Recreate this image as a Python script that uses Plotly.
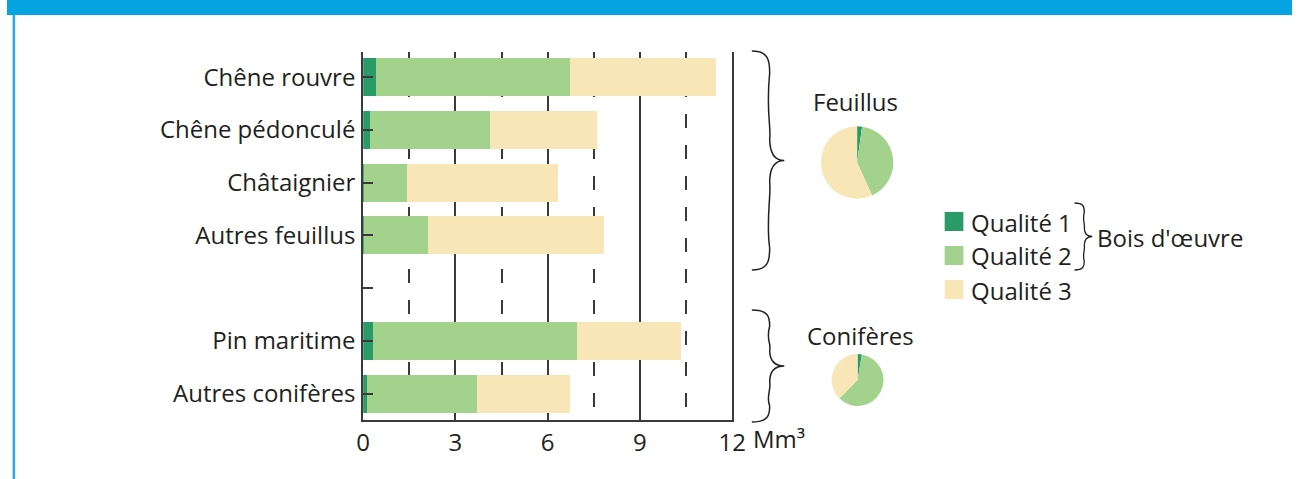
import plotly.graph_objects as go

# data (Mm3)
species = ["Chêne rouvre", "Chêne pédonculé", "Châtaignier", "Autres feuillus",
           " ", "Pin maritime", "Autres conifères"]
qual1 = [0.42, 0.23, 0.04, 0.04, None, 0.32, 0.13]
qual2 = [6.30, 3.90, 1.37, 2.07, None, 6.62, 3.58]
qual3 = [4.74, 3.49, 4.93, 5.73, None, 3.40, 3.01]
quality_names = ["Qualité 1", "Qualité 2", "Qualité 3"]
colors = ["#2a9a66", "#a3d28c", "#f9e6b6"]
x_ticks = [0, 3, 6, 9, 12]

W, H = 1306, 479
FONT = "Open Sans"
FS = 24
TXT = "#231f20"
GRID = "#3a3a3a"


def px(x):
    return x / W


def py(y):
    return 1 - y / H


def brace(x0, y0, y1, w, hook):
    # curly brace opening left, tip pointing right (pixel coords -> paper)
    ym = (y0 + y1) / 2
    xa = x0 + w * 0.55
    pts = [
        ("M", [(x0, y0)]),
        ("C", [(x0 + w * 0.5, y0), (xa, y0 + hook * 0.4), (xa, y0 + hook)]),
        ("C", [(xa - w * 0.12, ym - (ym - y0) * 0.45), (xa + w * 0.05, ym - hook * 1.5), (xa, ym - hook)]),
        ("C", [(xa, ym - hook * 0.3), (x0 + w * 0.7, ym), (x0 + w, ym)]),
        ("C", [(x0 + w * 0.7, ym), (xa, ym + hook * 0.3), (xa, ym + hook)]),
        ("C", [(xa + w * 0.05, ym + hook * 1.5), (xa - w * 0.12, y1 - (y1 - ym) * 0.45), (xa, y1 - hook)]),
        ("C", [(xa, y1 - hook * 0.4), (x0 + w * 0.5, y1), (x0, y1)]),
    ]
    s = ""
    for cmd, pp in pts:
        s += cmd + " " + " ".join("%.5f,%.5f" % (px(a), py(b)) for a, b in pp) + " "
    return s.strip()


fig = go.Figure()

for name, vals, col in zip(quality_names, [qual1, qual2, qual3], colors):
    fig.add_trace(go.Bar(y=species, x=vals, orientation="h", name=name,
                         marker=dict(color=col, line=dict(width=0)),
                         showlegend=False, hoverinfo="skip"))

# pies: totals per group, size proportional to total volume
groups = [("Feuillus", slice(0, 4), 864, 162.5), ("Conifères", slice(5, 7), 864.5, 380)]
k = 6.38
for label, sl, cx, cy in groups:
    vals = [sum(v for v in q[sl]) for q in (qual1, qual2, qual3)]
    r = k * sum(vals) ** 0.5
    fig.add_trace(go.Pie(values=vals, labels=quality_names, sort=False,
                         direction="clockwise", rotation=0,
                         marker=dict(colors=colors, line=dict(width=0)),
                         textinfo="none", hoverinfo="skip", showlegend=False,
                         domain=dict(x=[px(cx - r), px(cx + r)],
                                     y=[py(cy + r), py(cy - r)])))

fig.update_layout(
    width=W, height=H, autosize=False,
    margin=dict(l=0, r=0, t=0, b=0),
    paper_bgcolor="white", plot_bgcolor="rgba(0,0,0,0)",
    barmode="stack", bargap=0.28,
    font=dict(family=FONT, size=FS, color=TXT),
    xaxis=dict(domain=[px(362), px(737)], range=[0, 12], tickvals=x_ticks,
               showgrid=True, gridcolor=GRID, gridwidth=2, zeroline=False,
               showline=True, linecolor=GRID, linewidth=2, ticks="",
               tickfont=dict(size=FS, color=TXT),
               minor=dict(tick0=0, dtick=1.5, showgrid=True, gridcolor=GRID,
                          gridwidth=2, griddash="14px,17px")),
    yaxis=dict(domain=[py(420), py(52)], range=[6.5, -0.48],
               categoryorder="array", categoryarray=species,
               showgrid=False, zeroline=False, showline=True, mirror=True,
               linecolor=GRID, linewidth=2, ticks="inside", ticklen=10,
               tickwidth=2, tickcolor=GRID, ticklabelstandoff=1,
               tickfont=dict(size=FS, color=TXT)),
)

shapes = [
    # top banner and left frame line
    dict(type="rect", xref="paper", yref="paper", x0=0, x1=1, y0=py(15), y1=1,
         fillcolor="#05a3df", line=dict(width=0), layer="below"),
    dict(type="line", xref="paper", yref="paper", x0=px(7), x1=px(7), y0=0, y1=py(15),
         line=dict(color="#29aae1", width=2.5)),
    dict(type="path", xref="paper", yref="paper", path=brace(757, 51, 270, 33, 22),
         line=dict(color=TXT, width=1.5)),
    dict(type="path", xref="paper", yref="paper", path=brace(757, 310, 422, 33, 16),
         line=dict(color=TXT, width=1.5)),
    dict(type="path", xref="paper", yref="paper", path=brace(1085, 203, 270, 18, 9),
         line=dict(color=TXT, width=1.3)),
]

annotations = [
    dict(text="Mm³", x=px(756), y=py(438), xanchor="left", yanchor="middle"),
    dict(text="Feuillus", x=px(862), y=py(102), xanchor="center", yanchor="middle"),
    dict(text="Conifères", x=px(867), y=py(335), xanchor="center", yanchor="middle"),
    dict(text="Bois d'œuvre", x=px(1106), y=py(237), xanchor="left", yanchor="middle"),
]

# custom legend
for i, (name, col) in enumerate(zip(quality_names, colors)):
    top = 212 + 34 * i
    shapes.append(dict(type="rect", xref="paper", yref="paper",
                       x0=px(953), x1=px(972), y0=py(top + 19), y1=py(top),
                       fillcolor=col, line=dict(width=0)))
    annotations.append(dict(text=name, x=px(978), y=py(top + 10),
                            xanchor="left", yanchor="middle"))

for a in annotations:
    a.update(xref="paper", yref="paper", showarrow=False,
             font=dict(family=FONT, size=FS, color=TXT))

fig.update_layout(shapes=shapes, annotations=annotations)

# page body margin off so the figure sits at the window corner
fig.write_html("out.html", config={"displayModeBar": False},
               post_script="document.body.style.margin='0';")
